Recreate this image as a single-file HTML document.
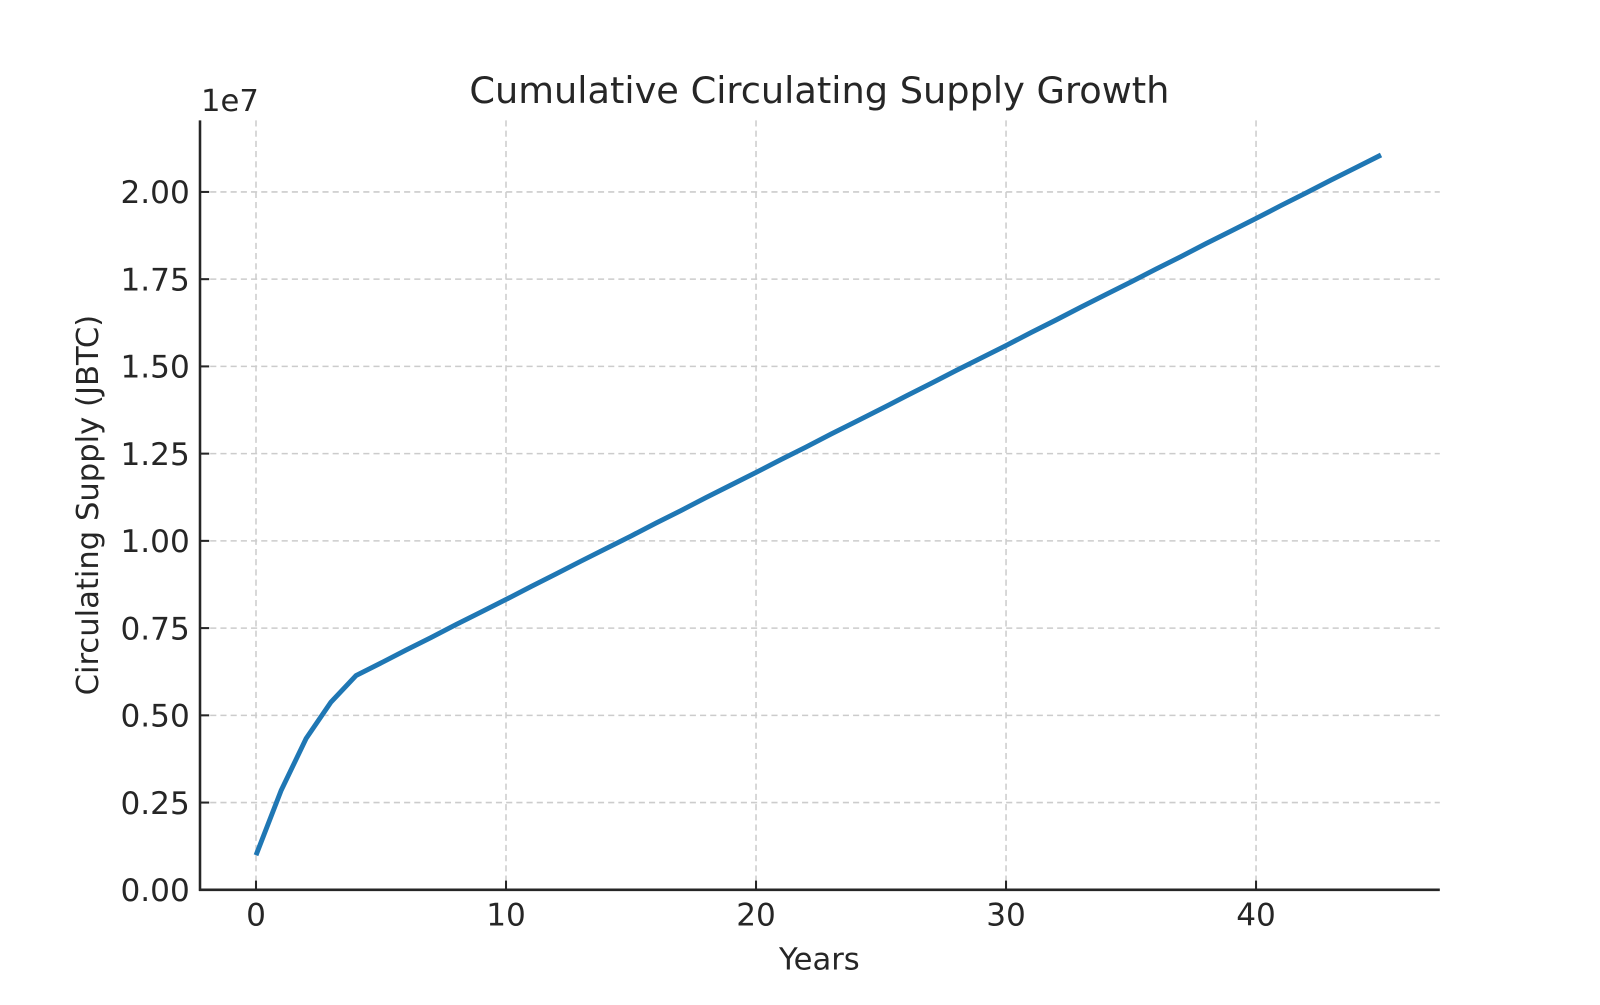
<!DOCTYPE html>
<html><head><meta charset="utf-8"><style>
html,body{margin:0;padding:0;background:#fff;}
svg text{font-family:"DejaVu Sans","Liberation Sans",sans-serif;fill:#262626;}
</style></head><body>
<svg id="chart" width="1600" height="1000" viewBox="0 0 1568 980" xmlns="http://www.w3.org/2000/svg">
<rect width="1568" height="980" fill="#fff"/>
<g id="grid"></g>
<g id="series"></g>
<g id="axes"></g>
<text x="803" y="101" font-size="36" text-anchor="middle">Cumulative Circulating Supply Growth</text>
<text x="803" y="950" font-size="30" text-anchor="middle">Years</text>
<text transform="translate(96,495) rotate(-90)" font-size="30" text-anchor="middle">Circulating Supply (JBTC)</text>
<text x="197" y="109" font-size="30">1e7</text>
</svg>
<script>
const years = [0,1,2,3,4,5,6,7,8,9,10,11,12,13,14,15,16,17,18,19,20,21,22,23,24,25,26,27,28,29,30,31,32,33,34,35,36,37,38,39,40,41,42,43,44,45];
const supplyMillions = [0.99,2.84,4.33,5.38,6.14,6.50,6.87,7.23,7.60,7.96,8.32,8.69,9.05,9.42,9.78,10.14,10.51,10.87,11.24,11.60,11.96,12.33,12.69,13.06,13.42,13.78,14.15,14.51,14.88,15.24,15.60,15.97,16.33,16.70,17.06,17.42,17.79,18.15,18.52,18.88,19.24,19.61,19.97,20.34,20.70,21.06];
const xTicks = [0,10,20,30,40];
const yTicks = [0,0.25,0.5,0.75,1.0,1.25,1.5,1.75,2.0];
const yTickLabels = ["0.00","0.25","0.50","0.75","1.00","1.25","1.50","1.75","2.00"];

const L=196,R=1411,T=118,B=872;
const xMin=-2.24,xMax=47.35,yMin=0,yMax=2.205;
const xs=v=>L+(v-xMin)/(xMax-xMin)*(R-L);
const ys=v=>B-(v-yMin)/(yMax-yMin)*(B-T);
const NS="http://www.w3.org/2000/svg";
function mk(tag,attrs,parent){const e=document.createElementNS(NS,tag);for(const k in attrs)e.setAttribute(k,attrs[k]);parent.appendChild(e);return e;}
const grid=document.getElementById('grid'),axes=document.getElementById('axes'),series=document.getElementById('series');
xTicks.forEach(t=>{
  const x=xs(t);
  const g=mk('line',{x1:x,x2:x,y1:T,y2:B,stroke:'#cccccc','stroke-width':1.5,'stroke-dasharray':'6,4'},grid);
  
  
  const tk=mk('line',{x1:x,x2:x,y1:B,y2:B-9,stroke:'#262626','stroke-width':2},axes);
  
  
  const lb=mk('text',{x:x,y:B+35,'font-size':30.5,'text-anchor':'middle'},axes);
  lb.textContent=String(t);
  
  
});
yTicks.forEach((t,i)=>{
  const y=ys(t);
  const g=mk('line',{x1:L,x2:R,y1:y,y2:y,stroke:'#cccccc','stroke-width':1.5,'stroke-dasharray':'6,4'},grid);
  
  
  const tk=mk('line',{x1:L,x2:L+9,y1:y,y2:y,stroke:'#262626','stroke-width':2},axes);
  
  
  const lb=mk('text',{x:L-10,y:y+11,'font-size':30.5,'text-anchor':'end'},axes);
  lb.textContent=yTickLabels[i];
  
  
});
const sp1=mk('line',{x1:L,x2:L,y1:T,y2:B+1,stroke:'#262626','stroke-width':2.5},axes);


const sp2=mk('line',{x1:L-1,x2:R,y1:B,y2:B,stroke:'#262626','stroke-width':2.5},axes);


const pts=years.map((yr,i)=>xs(yr).toFixed(1)+','+ys(supplyMillions[i]/10).toFixed(1)).join(' ');
const line=mk('polyline',{points:pts,fill:'none',stroke:'#1f77b4','stroke-width':4.8,'stroke-linejoin':'round'},series);


</script>
</body></html>
